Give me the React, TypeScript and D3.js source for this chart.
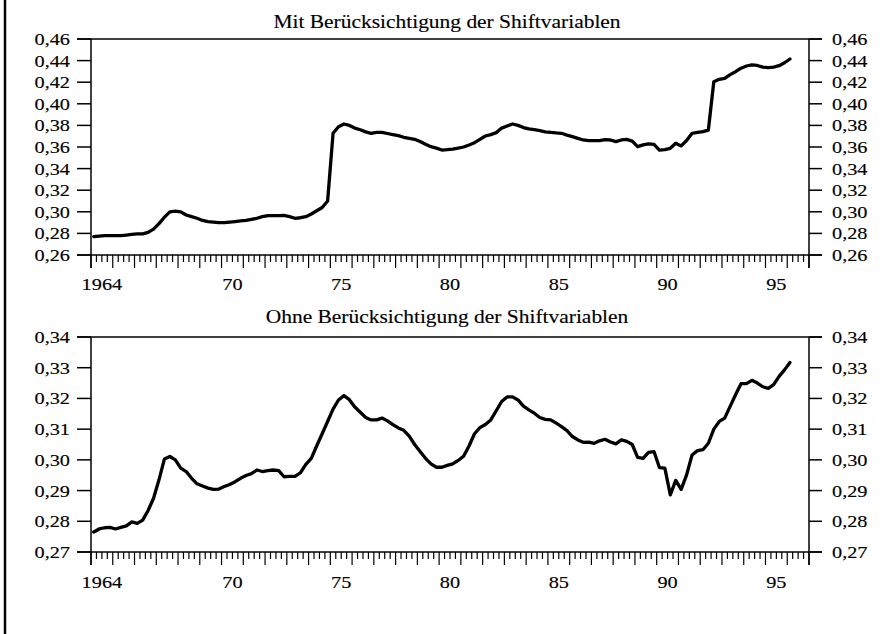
import React from "react";
import * as d3 from "d3";

// quarterly values, 1964Q1 .. 1996Q1
const startYear = 1964;

const withShift = [
  0.277, 0.2775, 0.278, 0.278,
  0.278, 0.278, 0.2785, 0.279,
  0.2795, 0.2795, 0.281, 0.284,
  0.289, 0.295, 0.3, 0.3007,
  0.3, 0.297, 0.2955, 0.294,
  0.292, 0.291, 0.2905, 0.29,
  0.29, 0.2905, 0.291, 0.2915,
  0.292, 0.293, 0.294, 0.2955,
  0.2965, 0.2965, 0.2965, 0.2967,
  0.2955, 0.294, 0.2945, 0.2955,
  0.298, 0.301, 0.304, 0.31,
  0.3727, 0.3788, 0.3813, 0.38,
  0.3775, 0.376, 0.374, 0.3727,
  0.3735, 0.3736, 0.3725, 0.3715,
  0.3705, 0.369, 0.368, 0.3671,
  0.365, 0.3625, 0.3603, 0.359,
  0.3572, 0.3575, 0.3581, 0.359,
  0.36, 0.3619, 0.364, 0.367,
  0.3702, 0.3715, 0.3733, 0.3775,
  0.3795, 0.3813, 0.38, 0.378,
  0.3767, 0.376, 0.3751, 0.374,
  0.3736, 0.373, 0.3727, 0.371,
  0.3696, 0.368, 0.3665, 0.3659,
  0.3659, 0.3659, 0.3668, 0.3665,
  0.365, 0.3665, 0.3671, 0.3655,
  0.3603, 0.362, 0.3628, 0.3625,
  0.3572, 0.3575, 0.3588, 0.3634,
  0.361, 0.366, 0.3727, 0.3735,
  0.3742, 0.3757, 0.4205, 0.4227,
  0.4236, 0.427, 0.4297, 0.433,
  0.435, 0.436, 0.4355, 0.434,
  0.4334, 0.434, 0.4353, 0.438,
  0.4415,
];

const withoutShift = [
  0.2765, 0.2775, 0.2779, 0.278,
  0.2775, 0.278, 0.2785, 0.2798,
  0.2793, 0.2804, 0.2835, 0.2875,
  0.2935, 0.3003, 0.3011, 0.3,
  0.2973, 0.2962, 0.294, 0.2922,
  0.2915, 0.2908, 0.2904, 0.2905,
  0.2913, 0.292, 0.2929, 0.294,
  0.2949, 0.2955, 0.2967, 0.2962,
  0.2965, 0.2967, 0.2965, 0.2945,
  0.2946, 0.2946, 0.2958, 0.2985,
  0.3005, 0.3046, 0.3085, 0.3125,
  0.3165, 0.3195, 0.3209, 0.3196,
  0.3172, 0.3155, 0.3138, 0.313,
  0.313, 0.3136, 0.3127, 0.3115,
  0.3104, 0.3096, 0.3077, 0.305,
  0.3027, 0.3005, 0.2987, 0.2976,
  0.2976, 0.2982, 0.2987, 0.2998,
  0.3012, 0.3045, 0.3085, 0.3105,
  0.3115, 0.313, 0.316, 0.319,
  0.3205, 0.3205, 0.3195, 0.3175,
  0.3163, 0.3152, 0.3138, 0.3132,
  0.313, 0.312, 0.3108, 0.3095,
  0.3076, 0.3065, 0.3057, 0.3058,
  0.3054, 0.3062, 0.3067, 0.3058,
  0.3052, 0.3065, 0.306, 0.305,
  0.3008, 0.3005, 0.3024, 0.3027,
  0.2975, 0.2973, 0.2886, 0.2933,
  0.2904, 0.2951, 0.3016, 0.303,
  0.3033, 0.3054, 0.31, 0.3125,
  0.3136, 0.3174, 0.3212, 0.3248,
  0.3248, 0.3259, 0.325, 0.3238,
  0.3233, 0.3245, 0.3272, 0.3293,
  0.3317,
];

const topTicks = [0.26, 0.28, 0.3, 0.32, 0.34, 0.36, 0.38, 0.4, 0.42, 0.44, 0.46];
const bottomTicks = [0.27, 0.28, 0.29, 0.3, 0.31, 0.32, 0.33, 0.34];
const yearLabels = [1964, 1970, 1975, 1980, 1985, 1990, 1995];
const yearText = ["1964", "70", "75", "80", "85", "90", "95"];
const endYear = 1997;

const fmt = d3.formatLocale({ decimal: ",", thousands: ".", grouping: [3], currency: ["", ""] }).format(".2f");

const W = 884;
const H = 634;
const left = 91;
const right = 809;
const font = "'Liberation Serif', 'Times New Roman', serif";
const sx = 1.16; // the scanned type is wider than it is tall

const x = d3.scaleLinear().domain([startYear, endYear]).range([left, right]);

const Label = ({ x, y, anchor, size, children }) => (
  <g transform={`translate(${x},${y}) scale(${sx},1)`}>
    <text textAnchor={anchor} fontSize={size} fontFamily={font} fill="#000"
      stroke="#000" strokeWidth={0.15}>{children}</text>
  </g>
);

const Panel = ({ title, values, ticks, top, bottom, titleY, labelY }) => {
  const y = d3.scaleLinear().domain([ticks[0], ticks[ticks.length - 1]]).range([bottom, top]);
  const line = d3.line<number>()
    .x((d, i) => x(startYear + (i + 0.5) / 4))
    .y(d => y(d));
  const quarters = d3.range(startYear, endYear + 0.001, 0.25);
  return (
    <g>
      <Label x={(left + right) / 2 - 3} y={titleY} anchor="middle" size={18.5}>{title}</Label>
      {/* frame */}
      <line x1={left - 14} x2={right + 13} y1={top} y2={top} stroke="#000" strokeWidth={1.5} />
      <line x1={left - 14} x2={right + 13} y1={bottom} y2={bottom} stroke="#000" strokeWidth={1.5} />
      <line x1={left} x2={left} y1={top} y2={bottom + 13} stroke="#000" strokeWidth={1.5} />
      <line x1={right} x2={right} y1={top} y2={bottom + 13} stroke="#000" strokeWidth={1.5} />
      {ticks.map(t => (
        <g key={t}>
          <line x1={left - 14} x2={left} y1={y(t)} y2={y(t)} stroke="#000" strokeWidth={1.5} />
          <line x1={right} x2={right + 13} y1={y(t)} y2={y(t)} stroke="#000" strokeWidth={1.5} />
          <Label x={70} y={y(t) + 6} anchor="end" size={17.5}>{fmt(t)}</Label>
          <Label x={832} y={y(t) + 6} anchor="start" size={17.5}>{fmt(t)}</Label>
        </g>
      ))}
      {quarters.map((q, i) => (
        <line key={i} x1={x(q)} x2={x(q)} y1={bottom} y2={bottom + (i % 4 === 0 ? 13 : 7)} stroke="#000" strokeWidth={1.2} />
      ))}
      {yearLabels.map((yr, i) => (
        <Label key={yr} x={x(yr + 0.5)} y={labelY} anchor="middle" size={17.5}>{yearText[i]}</Label>
      ))}
      <path d={line(values)} fill="none" stroke="#000" strokeWidth={3.3} strokeLinejoin="round" strokeLinecap="round" />
    </g>
  );
};

export default function App() {
  return (
    <svg width={W} height={H} style={{ position: "absolute", left: 0, top: 0, background: "#fff" }}>
      <rect width={W} height={H} fill="#fff" />
      <line x1={5} x2={5} y1={0} y2={H} stroke="#000" strokeWidth={2.5} />
      <Panel title="Mit Berücksichtigung der Shiftvariablen" values={withShift} ticks={topTicks}
        top={39} bottom={255} titleY={28} labelY={290} />
      <Panel title="Ohne Berücksichtigung der Shiftvariablen" values={withoutShift} ticks={bottomTicks}
        top={337} bottom={552} titleY={323} labelY={588} />
    </svg>
  );
}
